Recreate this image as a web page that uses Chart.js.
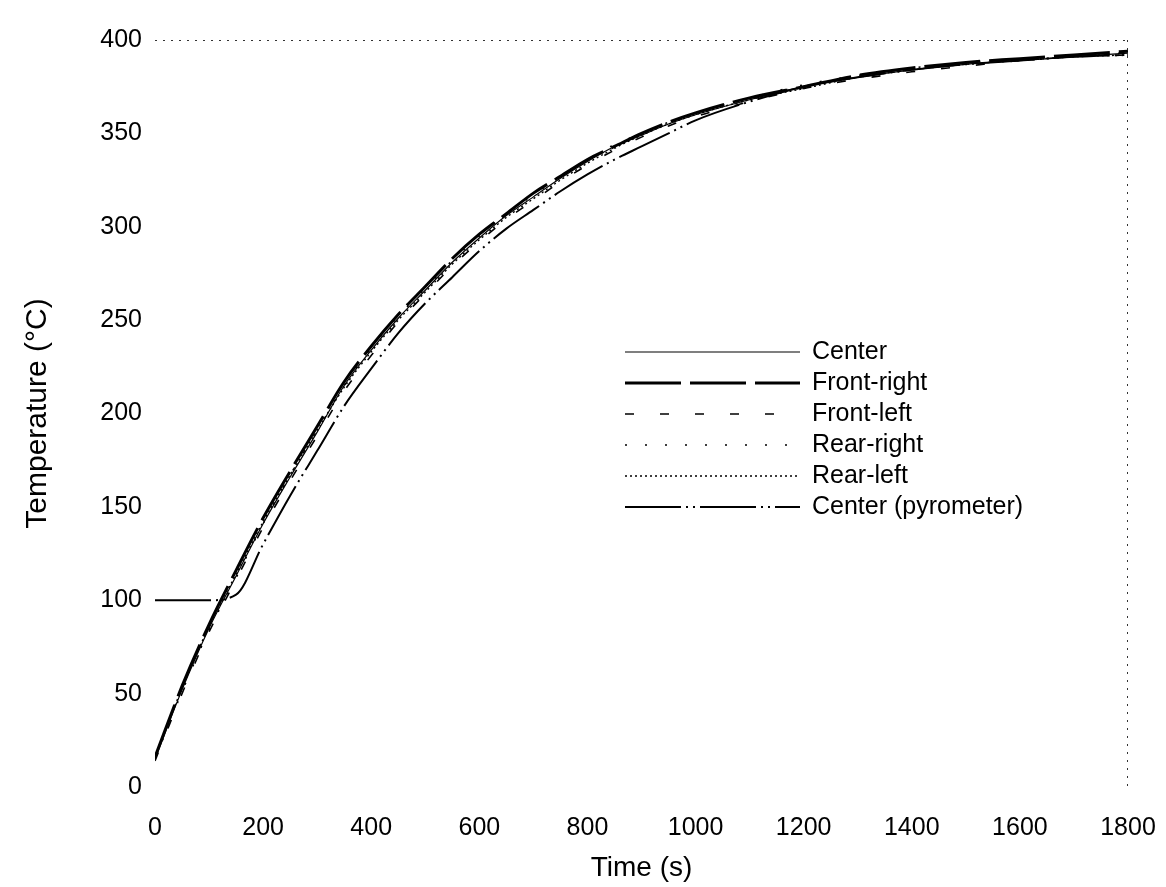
<!DOCTYPE html>
<html>
<head>
<meta charset="utf-8">
<script src="https://cdn.jsdelivr.net/npm/chart.js@4.4.0/dist/chart.umd.min.js"></script>
<style>
html,body{margin:0;padding:0;background:#fff;}
canvas{display:block;}
</style>
</head>
<body>
<canvas id="c" width="1166" height="887"></canvas>
<script>
// ---- data ----
const times      = [0, 50, 100, 150, 200, 250, 300, 350, 400, 450, 500, 550, 600, 650, 700, 750, 800, 850, 900, 950, 1000, 1100, 1200, 1300, 1400, 1500, 1600, 1700, 1800];
const center     = [15, 52, 85, 113, 141, 166, 190, 215, 234, 251, 266, 281, 294, 306, 316, 326, 335, 343, 349, 355, 360, 368, 375, 380, 384, 387, 389, 391, 393];
const frontRight = [16, 54, 87, 116, 144, 169, 193, 217, 236, 253, 268, 283, 296, 307, 318, 327, 336, 343, 350, 356, 361, 369, 375, 381, 385, 388, 390, 392, 394];
const frontLeft  = [14, 50, 83, 111, 139, 164, 188, 212, 231, 249, 264, 279, 292, 304, 314, 324, 333, 341, 348, 354, 359, 367, 374, 379, 383, 386, 389, 391, 392];
const rearRight  = [15, 51, 84, 112, 141, 167, 191, 215, 235, 252, 267, 282, 295, 307, 317, 327, 336, 344, 350, 356, 361, 369, 376, 381, 385, 388, 390, 392, 393];
const rearLeft   = [16, 53, 86, 114, 142, 167, 191, 214, 233, 250, 265, 280, 293, 305, 315, 325, 334, 342, 349, 355, 360, 368, 374, 380, 384, 387, 389, 391, 392];
const pyrometer  = [100, 100, 100, 103, 130, 156, 180, 204, 224, 243, 259, 273, 287, 299, 309, 319, 328, 336, 343, 350, 357, 367, 375, 380, 384, 387, 389, 391, 392];
const seriesNames = ['Center', 'Front-right', 'Front-left', 'Rear-right', 'Rear-left', 'Center (pyrometer)'];
const xTitle = 'Time (s)';
const yTitle = 'Temperature (°C)';

// ---- styles ----
const lineStyles = [
  {w: 1.2, dash: []},
  {w: 3,   dash: [56, 9]},
  {w: 1.6, dash: [9, 26]},
  {w: 1.6, dash: [2, 18]},
  {w: 1.4, dash: [2, 3]},
  {w: 2,   dash: [56, 5, 2, 5, 2, 5]}
];
const seriesValues = [center, frontRight, frontLeft, rearRight, rearLeft, pyrometer];

Chart.defaults.font.family = '"Liberation Sans", Arial, Helvetica, sans-serif';
Chart.defaults.color = '#000';

const datasets = seriesValues.map((vals, i) => ({
  label: seriesNames[i],
  data: times.map((t, k) => ({x: t, y: vals[k]})),
  borderColor: '#000',
  backgroundColor: '#000',
  borderWidth: lineStyles[i].w,
  borderDash: lineStyles[i].dash,
  pointRadius: 0,
  fill: false,
  cubicInterpolationMode: 'monotone'
}));

const frameAndLegend = {
  id: 'frameAndLegend',
  beforeDatasetsDraw(chart) {
    const {ctx, chartArea: a} = chart;
    ctx.save();
    ctx.strokeStyle = '#333';
    ctx.lineWidth = 1;
    ctx.setLineDash([2, 6]);
    ctx.beginPath();
    ctx.moveTo(a.left, a.top + 0.5);
    ctx.lineTo(a.right, a.top + 0.5);
    ctx.moveTo(a.right - 0.5, a.top);
    ctx.lineTo(a.right - 0.5, a.bottom);
    ctx.stroke();
    ctx.restore();
  },
  afterDatasetsDraw(chart, args, opts) {
    const ctx = chart.ctx;
    ctx.save();
    chart.data.datasets.forEach((ds, i) => {
      const y = opts.top + i * opts.rowGap;
      ctx.beginPath();
      ctx.setLineDash(ds.borderDash || []);
      ctx.lineWidth = ds.borderWidth;
      ctx.strokeStyle = ds.borderColor;
      ctx.moveTo(opts.x0, y);
      ctx.lineTo(opts.x1, y);
      ctx.stroke();
      ctx.setLineDash([]);
      ctx.fillStyle = '#000';
      ctx.font = opts.font;
      ctx.textBaseline = 'middle';
      ctx.textAlign = 'left';
      ctx.fillText(ds.label, opts.textX, y);
    });
    ctx.restore();
  }
};

new Chart(document.getElementById('c'), {
  type: 'line',
  data: {datasets},
  plugins: [frameAndLegend],
  options: {
    responsive: false,
    animation: false,
    layout: {padding: {top: 40, right: 38, left: 0, bottom: 0}},
    plugins: {
      legend: {display: false},
      tooltip: {enabled: false},
      frameAndLegend: {x0: 625, x1: 800, textX: 812, top: 352, rowGap: 31, font: '25px "Liberation Sans", Arial, sans-serif'}
    },
    scales: {
      x: {
        type: 'linear', position: 'bottom', min: 0, max: 1800,
        ticks: {stepSize: 200, font: {size: 25}, color: '#000', padding: 26, maxRotation: 0,
                callback: v => String(v)},
        grid: {display: false, drawTicks: false},
        border: {display: false},
        title: {display: true, text: xTitle, font: {size: 28}, color: '#000', padding: {top: 0, bottom: 2}},
        afterFit: s => { s.height = 100; s.paddingLeft = 0; s.paddingRight = 0; }
      },
      y: {
        type: 'linear', position: 'left', min: 0, max: 400,
        ticks: {stepSize: 50, font: {size: 25}, color: '#000', padding: 13,
                callback: v => String(v)},
        grid: {display: false, drawTicks: false},
        border: {display: false},
        title: {display: true, text: yTitle, font: {size: 30}, color: '#000', padding: {top: 20, bottom: 0}},
        afterFit: s => { s.width = 155; s.paddingTop = 0; s.paddingBottom = 0; }
      }
    }
  }
});
</script>
</body>
</html>
